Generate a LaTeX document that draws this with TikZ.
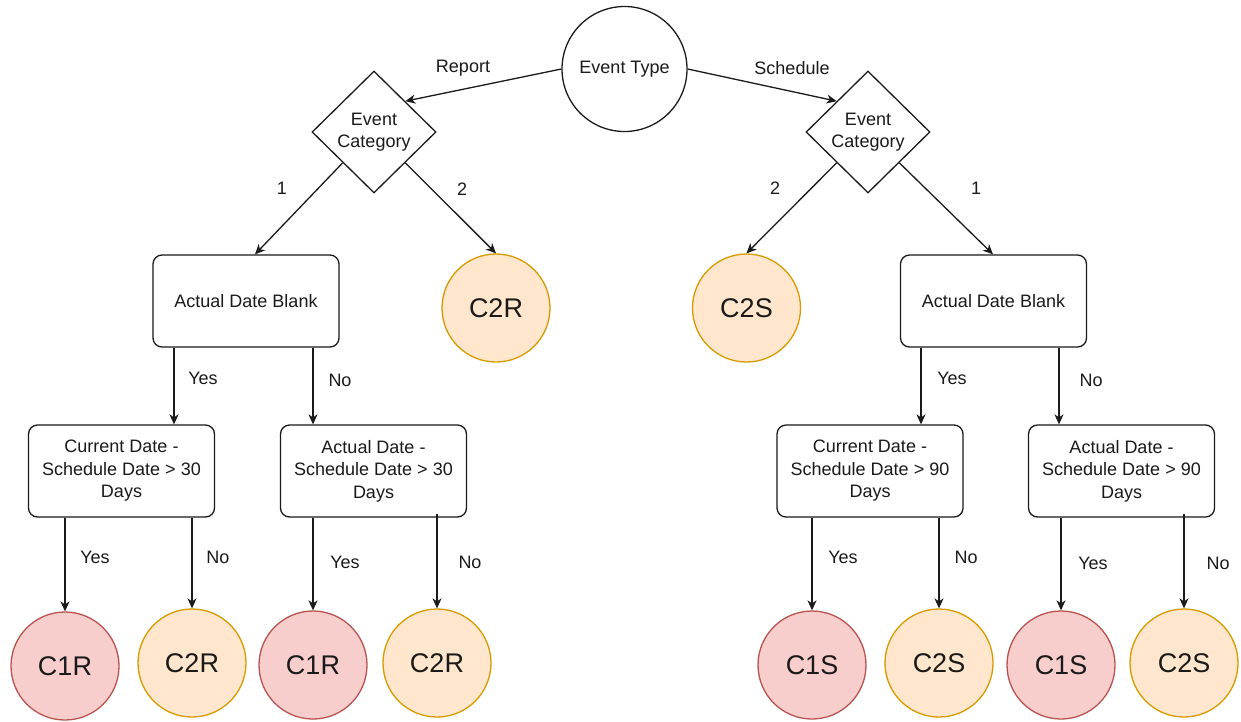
\documentclass[tikz,border=0pt]{standalone}
\usepackage{fontspec}
\setmainfont{Liberation Sans}
\usetikzlibrary{shapes.geometric,arrows.meta,calc}

\definecolor{redfill}{HTML}{F8CECC}
\definecolor{redline}{HTML}{B85450}
\definecolor{orangefill}{HTML}{FFE6CC}
\definecolor{orangeline}{HTML}{D79B00}
\definecolor{ink}{HTML}{1A1A1A}

\tikzset{
  base/.style={draw=ink, line width=1.3pt, inner sep=0pt, text=ink,
    font=\fontsize{18}{22.5}\selectfont, align=center},
  startcircle/.style={base, circle, minimum size=125pt},
  decision/.style={base, diamond, minimum width=124pt, minimum height=122pt},
  testbox/.style={base, rectangle, rounded corners=9pt,
    minimum width=186pt, minimum height=92pt},
  classone/.style={base, circle, minimum size=108pt, fill=redfill,
    draw=redline, font=\fontsize{27}{30}\selectfont},
  classtwo/.style={base, circle, minimum size=108pt, fill=orangefill,
    draw=orangeline, font=\fontsize{27}{30}\selectfont},
  arr/.style={draw=ink, line width=1.3pt,
    -{Stealth[length=10pt,width=9pt,inset=3pt]}},
  lbl/.style={text=ink, inner sep=0pt, font=\fontsize{18}{22.5}\selectfont}
}

\begin{document}
\begin{tikzpicture}[x=1pt, y=-1pt]
  \fill[white] (0,0) rectangle (1241,721);
  \useasboundingbox (0,0) rectangle (1241,721);

  % root
  \node[startcircle] (et) at (624.5,69) {Event Type};

  % category decisions
  \node[decision] (dL) at (374,132) {Event\\Category};
  \node[decision] (dR) at (868,132) {Event\\Category};

  % second level
  \node[testbox]  (adbL) at (246,301)   {Actual Date Blank};
  \node[classtwo] (c2rT) at (496,308)   {C2R};
  \node[classtwo] (c2sT) at (746.5,308) {C2S};
  \node[testbox]  (adbR) at (993.5,301) {Actual Date Blank};

  % third level
  \node[testbox] (cur30) at (121.5,471)  {Current Date -\\Schedule Date > 30\\Days};
  \node[testbox] (act30) at (373.5,471)  {Actual Date -\\Schedule Date > 30\\Days};
  \node[testbox] (cur90) at (870,471)    {Current Date -\\Schedule Date > 90\\Days};
  \node[testbox] (act90) at (1121.5,471) {Actual Date -\\Schedule Date > 90\\Days};

  % leaves
  \node[classone] (l1) at (65,666)   {C1R};
  \node[classtwo] (l2) at (192,663)  {C2R};
  \node[classone] (l3) at (313,665)  {C1R};
  \node[classtwo] (l4) at (437,663)  {C2R};
  \node[classone] (l5) at (812,665)  {C1S};
  \node[classtwo] (l6) at (939,663)  {C2S};
  \node[classone] (l7) at (1061,665) {C1S};
  \node[classtwo] (l8) at (1184,663) {C2S};

  % root to categories
  \draw[arr] (et.west) -- ($(dL.north)!0.5!(dL.east)$);
  \draw[arr] (et.east) -- ($(dR.north)!0.5!(dR.west)$);
  \node[lbl] (tReport)   at (463,68) {Report};
  \node[lbl] (tSchedule) at (792,68) {Schedule};

  % categories to second level
  \draw[arr] ($(dL.west)!0.5!(dL.south)$) -- (adbL.north -| 255,0);
  \draw[arr] ($(dL.east)!0.5!(dL.south)$) -- (c2rT.north);
  \draw[arr] ($(dR.west)!0.5!(dR.south)$) -- (c2sT.north);
  \draw[arr] ($(dR.east)!0.5!(dR.south)$) -- (adbR.north -| 993,0);
  \node[lbl] (tL1) at (282,188) {1};
  \node[lbl] (tL2) at (462,189) {2};
  \node[lbl] (tR2) at (775,188) {2};
  \node[lbl] (tR1) at (976,188) {1};

  % actual date blank tests
  \draw[arr] (adbL.south -| 174,0) -- (cur30.north -| 174,0);
  \draw[arr] (adbL.south -| 313,0) -- (act30.north -| 313,0);
  \draw[arr] (adbR.south -| 921,0) -- (cur90.north -| 921,0);
  \draw[arr] (adbR.south -| 1059,0) -- (act90.north -| 1059,0);
  \node[lbl] (tY1) at (203,378)  {Yes};
  \node[lbl] (tN1) at (340,380)  {No};
  \node[lbl] (tY2) at (952,378)  {Yes};
  \node[lbl] (tN2) at (1091,380) {No};

  % date difference tests to leaves
  \draw[arr] (cur30.south -| l1.north) -- (l1.north);
  \draw[arr] (cur30.south -| l2.north) -- (l2.north);
  \draw[arr] (act30.south -| l3.north) -- (l3.north);
  \draw[arr] ([yshift=4pt]act30.south -| l4.north) -- (l4.north);
  \draw[arr] (cur90.south -| l5.north) -- (l5.north);
  \draw[arr] (cur90.south -| l6.north) -- (l6.north);
  \draw[arr] (act90.south -| l7.north) -- (l7.north);
  \draw[arr] ([yshift=4pt]act90.south -| l8.north) -- (l8.north);
  \node[lbl] (tY3) at (95,557)   {Yes};
  \node[lbl] (tN3) at (218,557)  {No};
  \node[lbl] (tY4) at (345,562)  {Yes};
  \node[lbl] (tN4) at (470,562)  {No};
  \node[lbl] (tY5) at (843,557)  {Yes};
  \node[lbl] (tN5) at (966,557)  {No};
  \node[lbl] (tY6) at (1093,563) {Yes};
  \node[lbl] (tN6) at (1218,563) {No};
\end{tikzpicture}
\end{document}
